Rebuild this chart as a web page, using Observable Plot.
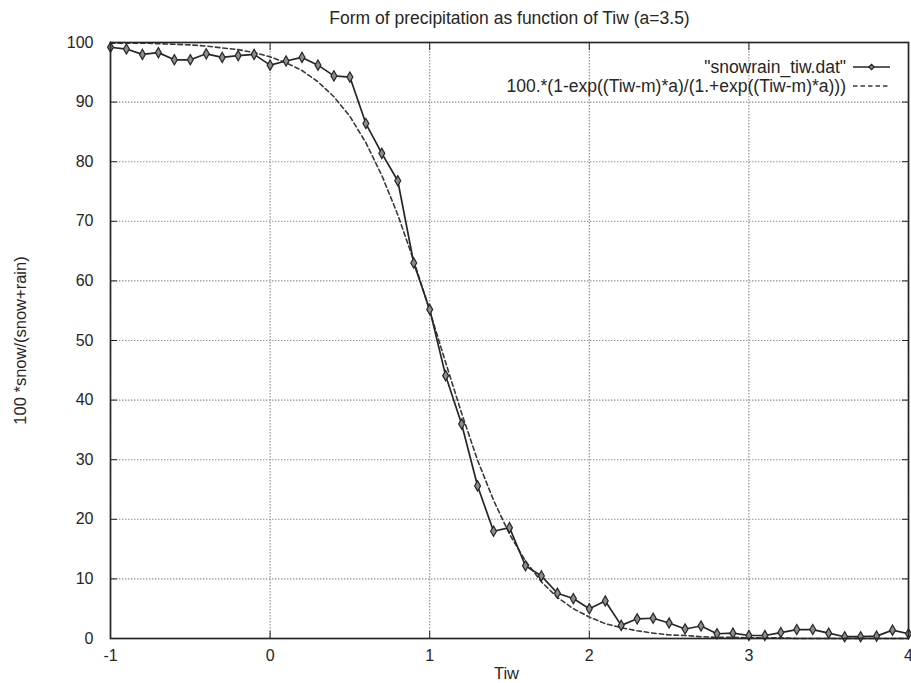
<!DOCTYPE html>
<html>
<head>
<meta charset="utf-8">
<script src="https://cdn.jsdelivr.net/npm/d3@7"></script>
<script src="https://cdn.jsdelivr.net/npm/@observablehq/plot@0.6"></script>
<style>
  html, body { margin: 0; padding: 0; background: #fff; }
  svg { display: block; }
</style>
</head>
<body>
<div id="chart"></div>
<script>
// Wet-bulb temperature Tiw (°C) sampled every 0.1
const tiw = [
  -1.0, -0.9, -0.8, -0.7, -0.6, -0.5, -0.4, -0.3, -0.2, -0.1,
   0.0,  0.1,  0.2,  0.3,  0.4,  0.5,  0.6,  0.7,  0.8,  0.9,
   1.0,  1.1,  1.2,  1.3,  1.4,  1.5,  1.6,  1.7,  1.8,  1.9,
   2.0,  2.1,  2.2,  2.3,  2.4,  2.5,  2.6,  2.7,  2.8,  2.9,
   3.0,  3.1,  3.2,  3.3,  3.4,  3.5,  3.6,  3.7,  3.8,  3.9,
   4.0
];

// Observed snow fraction, 100*snow/(snow+rain), from snowrain_tiw.dat
const snowObserved = [
  99.2, 98.9, 98.0, 98.3, 97.1, 97.1, 98.1, 97.5, 97.8, 98.0,
  96.2, 96.9, 97.5, 96.2, 94.4, 94.2, 86.4, 81.4, 76.8, 63.0,
  55.2, 44.1, 36.0, 25.6, 18.0, 18.6, 12.2, 10.5,  7.6,  6.7,
   5.0,  6.3,  2.2,  3.3,  3.4,  2.6,  1.6,  2.1,  0.8,  0.9,
   0.5,  0.5,  1.0,  1.5,  1.5,  0.9,  0.3,  0.3,  0.4,  1.4,
   0.8
];

// Fitted curve 100*(1-exp((Tiw-m)*a)/(1+exp((Tiw-m)*a))), a = 3.5
const snowFitted = [
  99.9, 99.9, 99.9, 99.8, 99.7, 99.6, 99.4, 99.1, 98.8, 98.3,
  97.6, 96.6, 95.3, 93.4, 90.9, 87.6, 83.2, 77.7, 71.1, 63.4,
  55.0, 46.3, 37.8, 29.9, 23.2, 17.5, 13.0,  9.5,  6.9,  5.0,
   3.6,  2.5,  1.8,  1.3,  0.9,  0.6,  0.5,  0.3,  0.2,  0.2,
   0.1,  0.1,  0.1,  0.0,  0.0,  0.0,  0.0,  0.0,  0.0,  0.0,
   0.0
];

const xTicks = [-1, 0, 1, 2, 3, 4];
const yTicks = [0, 10, 20, 30, 40, 50, 60, 70, 80, 90, 100];

const titleText = "Form of precipitation as function of Tiw (a=3.5)";
const xLabel = "Tiw";
const yLabel = "100 *snow/(snow+rain)";
const legendObserved = "\"snowrain_tiw.dat\"";
const legendFitted = "100.*(1-exp((Tiw-m)*a)/(1.+exp((Tiw-m)*a)))";

const observed = tiw.map((x, i) => ({x, y: snowObserved[i]}));
const fitted = tiw.map((x, i) => ({x, y: snowFitted[i]}));

const ink = "#262626";
const font = "Liberation Sans, Arial, Helvetica, sans-serif";

const W = 911, H = 683;
const mTop = 42, mRight = 3, mBottom = 45, mLeft = 110;

const noText = () => "";

const svg = Plot.plot({
  width: W,
  height: H,
  marginTop: mTop,
  marginRight: mRight,
  marginBottom: mBottom,
  marginLeft: mLeft,
  style: {fontFamily: font, color: ink, background: "#fff"},
  x: {domain: [-1, 4]},
  y: {domain: [0, 100]},
  marks: [
    // dotted grid
    Plot.ruleX(xTicks, {stroke: "#8a8a8a", strokeWidth: 1.1, strokeDasharray: "1.4,1.6"}),
    Plot.ruleY(yTicks, {stroke: "#8a8a8a", strokeWidth: 1.1, strokeDasharray: "1.4,1.6"}),

    // tick labels
    Plot.axisY(yTicks, {anchor: "left", label: null, tickSize: 0, tickPadding: 17, fontSize: 16, fill: ink}),
    Plot.axisX(xTicks, {anchor: "bottom", label: null, tickSize: 0, tickPadding: 11, fontSize: 16, fill: ink,
      tickFormat: d => String(d)}),

    // inward tick marks on all four sides
    Plot.axisY(yTicks, {anchor: "left", label: null, tickSize: 7, dx: 7, tickFormat: noText, stroke: ink}),
    Plot.axisY(yTicks, {anchor: "right", label: null, tickSize: 7, dx: -7, tickFormat: noText, stroke: ink}),
    Plot.axisX(xTicks, {anchor: "bottom", label: null, tickSize: 7, dy: -7, tickFormat: noText, stroke: ink}),
    Plot.axisX(xTicks, {anchor: "top", label: null, tickSize: 7, dy: 7, tickFormat: noText, stroke: ink}),

    // fitted logistic curve
    Plot.line(fitted, {x: "x", y: "y", stroke: "#3a3a3a", strokeWidth: 1.6, strokeDasharray: "4.5,3"}),

    // observations
    Plot.line(observed, {x: "x", y: "y", stroke: ink, strokeWidth: 1.7}),
    Plot.dot(observed, {x: "x", y: "y", symbol: "diamond", r: 3.1, fill: "#8c8c8c", stroke: ink, strokeWidth: 1.2}),

    Plot.frame({stroke: ink, strokeWidth: 1.7}),

    // titles
    Plot.text([titleText], {frameAnchor: "top", lineAnchor: "middle", dy: -24, fontSize: 17.5, fill: ink}),
    Plot.text([xLabel], {frameAnchor: "bottom", lineAnchor: "middle", textAnchor: "middle", dy: 35, dx: -3, fontSize: 16.5, fill: ink}),
    Plot.text([yLabel], {frameAnchor: "left", lineAnchor: "middle", textAnchor: "middle", dx: -90, rotate: -90, fontSize: 16.5, fill: ink})
  ]
});

// key in the upper-right corner
const key = d3.select(svg).append("g")
  .attr("font-family", font)
  .attr("font-size", 17.5)
  .attr("fill", ink);
const keyX = 846, sampleX1 = 853, sampleX2 = 890;
const rows = [
  {label: legendObserved, y: 67, dash: null, marker: true},
  {label: legendFitted, y: 86, dash: "4.5,3", marker: false}
];
for (const r of rows) {
  key.append("text")
    .attr("x", keyX).attr("y", r.y)
    .attr("dy", "0.32em")
    .attr("text-anchor", "end")
    .text(r.label);
  key.append("line")
    .attr("x1", sampleX1).attr("x2", sampleX2)
    .attr("y1", r.y).attr("y2", r.y)
    .attr("stroke", r.marker ? ink : "#3a3a3a")
    .attr("stroke-width", r.marker ? 1.7 : 1.6)
    .attr("stroke-dasharray", r.dash);
  if (r.marker) {
    const cx = (sampleX1 + sampleX2) / 2;
    key.append("path")
      .attr("d", d3.symbol(d3.symbolDiamond2, 3.1 * 3.1 * 2)())
      .attr("transform", `translate(${cx},${r.y})`)
      .attr("fill", "#8c8c8c")
      .attr("stroke", ink)
      .attr("stroke-width", 1.2);
  }
}

document.getElementById("chart").appendChild(svg);
</script>
</body>
</html>
